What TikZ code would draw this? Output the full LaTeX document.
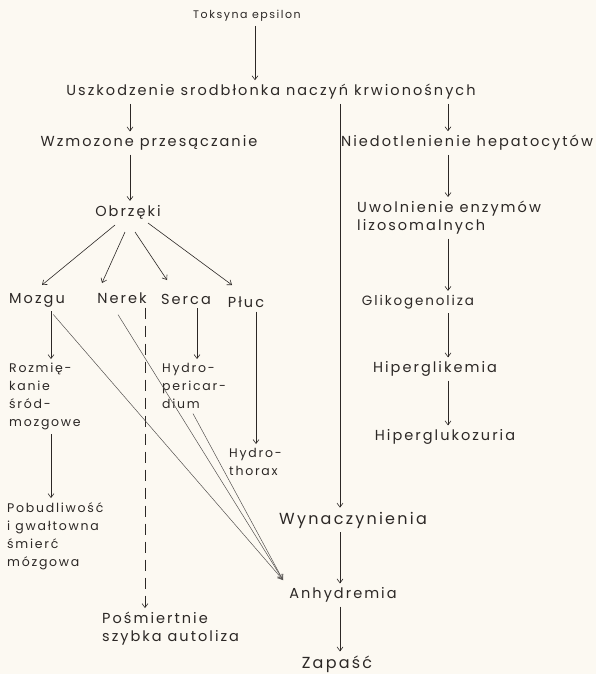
\documentclass[tikz,border=0pt]{standalone}
\usepackage{fontspec}
\setmainfont[LetterSpace=14]{Poppins}
\usetikzlibrary{calc,positioning,arrows.meta}
\definecolor{paper}{RGB}{252,249,242}
\definecolor{ink}{RGB}{44,40,38}

\tikzset{
  lbl/.style={text=ink, inner sep=1pt, font=\fontsize{14.5}{18}\selectfont},
  lblsm/.style={lbl, font=\fontsize{12.5}{18}\selectfont},
  blk/.style={lblsm, align=left, anchor=north west},
  arr/.style={draw=ink, line width=0.6pt, shorten <=3pt, shorten >=3pt,
    -{Straight Barb[length=4pt,width=6pt]}},
  diag/.style={draw=ink!80, line width=0.5pt, shorten <=2pt,
    -{Straight Barb[length=5pt,width=6pt]}},
  dashln/.style={arr, dash pattern=on 11pt off 7pt}
}

\begin{document}
\begin{tikzpicture}[x=1pt,y=-1pt]
  \fill[paper] (0,0) rectangle (596,674);
  \useasboundingbox (0,0) rectangle (596,674);

  % columns of the arrows
  \coordinate (xtop) at (255,0);
  \coordinate (xobr) at (130,0);
  \coordinate (xmid) at (340,0);
  \coordinate (xrgt) at (448,0);
  \coordinate (xmoz) at (51,0);
  \coordinate (xner) at (145,0);
  \coordinate (xser) at (197,0);
  \coordinate (xplu) at (256,0);

  % main trunk
  \node[lbl, font=\fontsize{11}{14}\selectfont] (toks) at (247,16) {Toksyna epsilon};
  \node[lbl] (usz) at (271,92) {Uszkodzenie srodbłonka naczyń krwionośnych};
  \node[lbl] (wzm) at (149,143) {Wzmozone przesączanie};
  \node[lbl] (obrz) at (128,212) {Obrzęki};

  % organs
  \node[lbl] (moz) at (37,300) {Mozgu};
  \node[lbl] (ner) at (122,298) {Nerek};
  \node[lbl] (ser) at (186,299) {Serca};
  \node[lbl] (pluc) at (246,302) {Płuc};

  \node[blk] (rozm) at (8,362) {Rozmię-\\kanie\\śród-\\mozgowe};
  \node[blk] (pobud) at (6,501) {Pobudliwość\\i gwałtowna\\śmierć\\mózgowa};
  \node[blk, lbl] (posm) at (101,611) {Pośmiertnie\\szybka autoliza};
  \node[blk] (hper) at (161,362) {Hydro-\\pericar-\\dium};
  \node[blk] (hthor) at (228,447) {Hydro-\\thorax};

  % liver branch
  \node[lbl] (nied) at (467,143) {Niedotlenienie hepatocytów};
  \node[blk, lbl] (uwol) at (356,200) {Uwolnienie enzymów\\lizosomalnych};
  \node[lbl, font=\fontsize{13.5}{18}\selectfont] (glik) at (418,302) {Glikogenoliza};
  \node[lbl] (hgli) at (435,369) {Hiperglikemia};
  \node[lbl] (hglu) at (445,437) {Hiperglukozuria};

  % end of the chain
  \node[lbl, font=\fontsize{16}{18}\selectfont] (wyn) at (353,520) {Wynaczynienia};
  \node[lbl] (anh) at (343,595) {Anhydremia};
  \node[lbl, font=\fontsize{16}{18}\selectfont] (zap) at (337,664) {Zapaść};
  \coordinate (anhin) at ([shift={(-60,-15)}]anh.center);

  \draw[arr] (toks.south -| xtop) -- (usz.north -| xtop);
  \draw[arr] (usz.south -| xobr) -- (wzm.north -| xobr);
  \draw[arr] (usz.south -| xmid) -- (wyn.north -| xmid);
  \draw[arr] (usz.south -| xrgt) -- (nied.north -| xrgt);
  \draw[arr] (wzm.south -| xobr) -- (obrz.north -| xobr);

  \draw[arr, shorten <=0pt, shorten >=0pt] ([shift={(-13,13)}]obrz.center) -- ([shift={(5,-15)}]moz.center);
  \draw[arr, shorten <=0pt, shorten >=0pt] ([shift={(-3,20)}]obrz.center) -- ([shift={(-20,-15)}]ner.center);
  \draw[arr, shorten <=0pt, shorten >=0pt] ([shift={(7,20)}]obrz.center) -- ([shift={(-19,-19)}]ser.center);
  \draw[arr, shorten <=0pt, shorten >=0pt] ([shift={(20,11)}]obrz.center) -- ([shift={(-14,-17)}]pluc.center);

  \draw[arr] (moz.south -| xmoz) -- (rozm.north -| xmoz);
  \draw[arr] (rozm.south -| xmoz) -- (pobud.north -| xmoz);
  \draw[dashln] (ner.south -| xner) -- (posm.north -| xner);
  \draw[arr] (ser.south -| xser) -- (hper.north -| xser);
  \draw[arr] (pluc.south -| xplu) -- (hthor.north -| xplu);

  \draw[arr] (nied.south -| xrgt) -- (uwol.north -| xrgt);
  \draw[arr] (uwol.south -| xrgt) -- (glik.north -| xrgt);
  \draw[arr] (glik.south -| xrgt) -- (hgli.north -| xrgt);
  \draw[arr] (hgli.south -| xrgt) -- (hglu.north -| xrgt);

  \draw[arr] (wyn.south -| xmid) -- (anh.north -| xmid);
  \draw[arr] (anh.south -| xmid) -- (zap.north -| xmid);

  \draw[diag] ([shift={(15,13)}]moz.center) -- (anhin);
  \draw[diag] ([shift={(-5,15)}]ner.center) -- (anhin);
  \draw[diag] ([shift={(31,2)}]hper.south west) -- (anhin);
\end{tikzpicture}
\end{document}
